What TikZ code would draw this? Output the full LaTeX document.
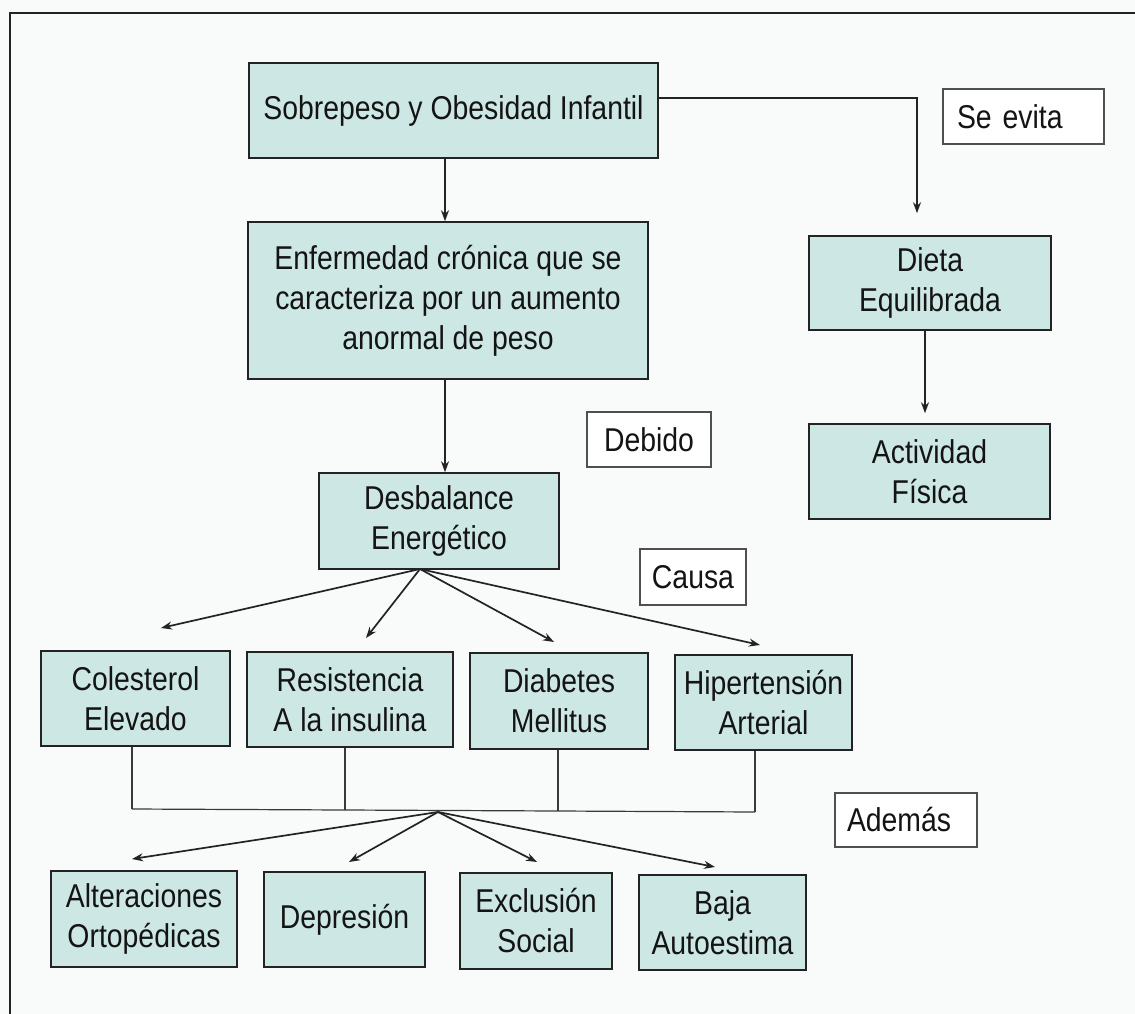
\documentclass[tikz,border=0pt]{standalone}
\usepackage{fontspec}
\setmainfont{Liberation Sans}[FakeStretch=0.86]
\usetikzlibrary{arrows.meta}
\definecolor{boxfill}{RGB}{205,232,228}
\definecolor{boxline}{RGB}{35,35,35}
\definecolor{pagebg}{RGB}{249,251,251}
\begin{document}
\begin{tikzpicture}[x=1pt,y=-1pt,
  every node/.style={font=\fontsize{33}{40}\selectfont, text=black!92},
  box/.style={draw=boxline, line width=1.6pt, fill=boxfill, align=center, inner sep=0pt},
  lbl/.style={draw=boxline!80, line width=1.2pt, fill=white, align=left, inner sep=0pt},
  arr/.style={draw=boxline, line width=1.7pt, -{Stealth[length=11pt,width=8pt]}},
  brk/.style={draw=boxline!90, line width=1.2pt}
]
\useasboundingbox (0,0) rectangle (1135,1014);
\fill[pagebg] (0,0) rectangle (1135,1014);
% frame
\draw[line width=1.8pt, boxline] (10,1014) -- (10,13) -- (1135,13);

% boxes
\node[box, minimum width=409pt, minimum height=95pt] (sob) at (453.5,110.5) {Sobrepeso y Obesidad Infantil};
\node[lbl, minimum width=161pt, minimum height=55pt, text width=133pt] (evita) at (1023.5,116.5) {Se evita};
\node[box, minimum width=400pt, minimum height=157pt] (enf) at (448,300.5) {Enfermedad crónica que se\\caracteriza por un aumento\\anormal de peso};
\node[box, minimum width=242pt, minimum height=94pt] (dieta) at (930,283) {Dieta\\Equilibrada};
\node[box, minimum width=241pt, minimum height=95pt] (act) at (929.5,471.5) {Actividad\\Física};
\node[lbl, minimum width=124pt, minimum height=55pt, align=center] (debido) at (649,439.5) {Debido};
\node[box, minimum width=240pt, minimum height=96pt] (desb) at (439,521) {Desbalance\\Energético};
\node[lbl, minimum width=106pt, minimum height=56pt, align=center] (causa) at (693,577) {Causa};

\node[box, minimum width=189pt, minimum height=95pt] (col) at (135.5,698.5) {Colesterol\\Elevado};
\node[box, minimum width=206pt, minimum height=95pt] (res) at (350,699.5) {Resistencia\\A la insulina};
\node[box, minimum width=178pt, minimum height=96pt] (dia) at (559,701) {Diabetes\\Mellitus};
\node[box, minimum width=177pt, minimum height=95pt] (hip) at (763.5,702.5) {Hipertensión\\Arterial};

\node[lbl, minimum width=142pt, minimum height=54pt, text width=118pt] (ademas) at (906,820) {Además};

\node[box, minimum width=186pt, minimum height=96pt] (alt) at (144,919) {Alteraciones\\Ortopédicas};
\node[box, minimum width=161pt, minimum height=95pt] (dep) at (344.5,919.5) {Depresión};
\node[box, minimum width=152pt, minimum height=96pt] (exc) at (536,921) {Exclusión\\Social};
\node[box, minimum width=167pt, minimum height=95pt] (baja) at (722.5,922.5) {Baja\\Autoestima};

% helper coordinates
\coordinate (j1) at (445,0);
\coordinate (c1) at (917,98);
\coordinate (c2) at (925,0);
\coordinate (f1) at (420,569);
\coordinate (a1) at (161,628);
\coordinate (a2) at (366,638);
\coordinate (a3) at (554,642);
\coordinate (a4) at (760,645);
\coordinate (b1) at (132,809);
\coordinate (b2) at (345,810);
\coordinate (b3) at (558,811);
\coordinate (b4) at (755,812);
\coordinate (m) at (438,812);
\coordinate (e1) at (132,859);
\coordinate (e2) at (349,862);
\coordinate (e3) at (537,862);
\coordinate (e4) at (715,867);

% connectors
\draw[arr] (sob.south -| j1) -- (enf.north -| j1);
\draw[arr] (enf.south -| j1) -- (desb.north -| j1);
\draw[arr, shorten >=22pt] (sob.east |- c1) -| (dieta.north -| c1);
\draw[arr, shorten >=10pt] (dieta.south -| c2) -- (act.north -| c2);

\draw[arr] (f1) -- (a1);
\draw[arr] (f1) -- (a2);
\draw[arr] (f1) -- (a3);
\draw[arr] (f1) -- (a4);

\draw[brk] (col.south -| b1) -- (b1);
\draw[brk] (res.south -| b2) -- (b2);
\draw[brk] (dia.south -| b3) -- (b3);
\draw[brk] (hip.south -| b4) -- (b4);
\draw[brk] (b1) -- (b2) -- (b3) -- (b4);

\draw[arr] (m) -- (e1);
\draw[arr] (m) -- (e2);
\draw[arr] (m) -- (e3);
\draw[arr] (m) -- (e4);
\end{tikzpicture}
\end{document}
